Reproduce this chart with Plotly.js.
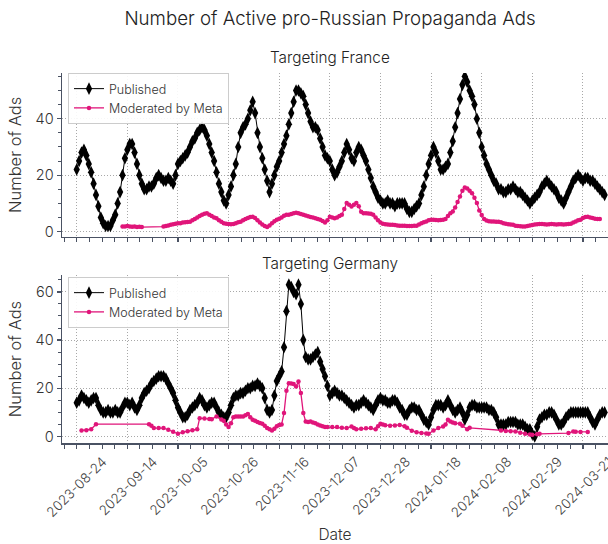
<!DOCTYPE html>
<html>
<head>
<meta charset="utf-8">
<script src="https://cdn.plot.ly/plotly-3.0.1.min.js"></script>
<style>html,body{margin:0;padding:0;background:#fff;}#chart{width:608px;height:544px;}</style>
</head>
<body>
<div id="chart"></div>
<script>
// ---- DATA ----
const startDate = '2023-08-24';
const tickDates = ['2023-08-24','2023-09-14','2023-10-05','2023-10-26','2023-11-16','2023-12-07','2023-12-28','2024-01-18','2024-02-08','2024-02-29','2024-03-21'];

// Daily published counts (day 0 = 2023-08-24)
const frPublished = [
 22,25,28,29,27,24,21,17,13,9,
 5,3,2,2,2,4,6,10,14,20,
 26,29,31,31,28,24,20,17,15,15,
 16,16,17,19,20,19,18,18,19,18,
 17,20,24,25,26,27,28,30,32,33,
 35,36,37,36,34,31,28,25,21,17,
 14,11,10,13,16,20,24,30,35,37,
 38,40,43,46,42,35,30,26,22,18,
 14,17,20,23,25,28,31,34,38,42,
 46,50,50,49,48,45,42,39,37,37,
 36,33,30,27,26,25,22,20,21,23,
 25,28,31,29,26,25,28,30,29,27,
 25,22,19,16,14,12,11,10,10,11,
 10,10,9,10,10,10,10,8,7,7,
 8,9,10,13,16,20,24,27,30,28,
 25,22,22,23,24,28,32,37,42,47,
 52,55,53,50,48,45,40,35,30,27,
 24,22,20,18,17,15,15,14,14,15,
 15,16,15,14,14,13,12,11,10,11,
 12,13,14,16,17,18,17,16,15,14,
 12,11,10,12,14,16,18,19,20,19,
 18,19,19,18,18,17,16,15,14,13
];
const dePublished = [
 14,15,17,16,15,14,15,16,16,13,
 11,10,10,11,10,10,11,10,10,12,
 14,14,13,14,12,11,13,16,18,19,
 20,22,23,24,25,25,25,24,22,20,
 18,15,12,10,8,8,9,11,12,13,
 14,16,15,13,12,13,14,14,12,10,
 9,8,8,10,13,16,17,17,18,18,
 19,20,20,21,21,22,21,20,16,11,
 10,11,17,23,25,27,37,52,63,62,
 60,59,63,55,40,33,32,32,33,34,
 35,31,28,25,21,17,18,19,18,17,
 17,16,15,14,13,12,13,13,14,15,
 14,13,12,11,13,15,16,15,15,14,
 14,15,15,14,12,11,9,9,11,12,
 12,11,11,9,7,6,5,8,11,13,
 13,13,12,13,15,13,11,10,11,12,
 10,7,9,12,13,13,12,12,12,12,
 12,11,11,10,8,5,5,5,5,6,
 6,6,6,5,5,5,4,3,3,1,
 0,4,7,8,9,9,10,10,9,7,
 5,5,6,8,9,10,10,10,10,10,
 10,10,10,8,6,5,7,9,10,10
];

// Moderated by Meta (day offsets from startDate, values)
const frModDays = [19,20,21,22,23,24,25,26,27,
 36,37,38,39,40,41,42,43,44,45,46,47,48,49,50,51,52,53,54,55,56,57,58,59,60,61,62,63,64,65,
 66,67,68,69,70,71,72,73,74,75,76,77,78,79,80,81,82,83,84,85,86,87,88,89,90,91,92,93,94,95,
 96,97,98,99,100,101,102,103,104,105,106,107,108,109,110,111,112,113,114,115,116,117,118,119,120,121,122,123,124,125,
 126,127,128,129,130,131,132,133,134,135,136,137,138,139,140,141,142,143,144,145,146,147,148,149,150,151,152,153,154,155,
 156,157,158,159,160,161,162,163,164,165,166,167,168,169,170,171,172,173,174,175,176,177,178,179,180,181,182,183,184,185,
 186,187,188,189,190,191,192,193,194,195,196,197,198,199,200,201,202,203,204,205,206,207,208,209,210,211,212,213,214,215,216,217];
const frModVals = [1.8,1.8,2.0,1.8,1.7,1.8,1.6,1.7,1.6,
 1.8,2.0,2.2,2.4,2.6,2.8,3.0,3.0,3.2,3.3,3.4,3.5,4.0,4.5,5.0,5.5,6.0,6.3,6.5,6.0,5.5,5.0,4.7,4.0,3.5,3.0,2.8,2.7,2.6,2.7,
 3.0,3.3,3.5,4.0,4.5,4.8,5.2,5.3,4.8,4.0,3.2,2.5,2.0,1.6,2.2,3.0,3.7,4.2,4.6,5.0,5.6,6.0,6.0,6.2,6.5,6.7,6.5,6.2,6.0,5.7,
 5.4,5.2,5.0,4.7,4.5,4.2,3.8,3.2,4.0,5.3,5.0,4.7,5.0,5.5,6.0,8.0,10.1,9.5,8.9,9.5,10.1,9.0,7.0,6.5,6.5,6.4,6.3,6.0,5.0,4.0,
 3.2,2.8,2.6,2.5,2.4,2.4,2.3,2.2,2.1,2.1,2.1,2.0,2.0,2.0,2.1,2.1,2.5,3.0,3.3,3.6,4.0,4.2,4.2,4.1,4.0,4.1,4.2,4.5,5.5,6.5,
 7.1,8.5,10.5,12.4,14.5,15.6,15.3,14.5,13.6,12.0,10.1,7.5,5.9,4.5,3.9,3.7,3.6,3.6,3.5,3.5,3.3,3.0,2.8,2.6,2.5,2.4,2.1,2.0,1.9,1.8,
 1.8,2.0,2.2,2.3,2.5,2.6,2.7,2.7,2.6,2.5,2.6,2.7,2.6,2.5,2.6,2.6,2.5,2.6,2.7,2.8,3.2,3.6,4.0,4.2,4.8,5.2,5.3,5.0,4.8,4.6,4.5,4.5];

const deModDays = [2,4,6,8,
 30,31,32,34,36,38,40,42,44,46,48,50,
 51,53,55,56,58,60,61,62,63,64,65,
 66,67,68,69,70,71,72,73,74,75,
 76,77,78,79,80,81,82,83,84,85,
 86,87,88,89,90,91,92,93,94,95,
 96,97,98,99,100,101,102,103,104,
 106,108,110,112,114,115,116,118,120,122,124,
 125,126,127,128,130,132,134,136,137,139,
 141,143,145,146,148,150,152,153,154,155,
 156,157,159,160,162,163,
 176,178,180,182,184,186,188,189,191,192,
 204,206,207,209,212];
const deModVals = [2.5,2.6,3.0,5.1,
 5.1,4.5,3.5,3.5,3.5,2.8,2.0,1.1,1.8,2.2,2.6,3.0,
 7.6,7.5,7.3,7.2,8.3,7.0,6.5,5.0,3.9,5.5,8.0,
 8.3,8.3,8.3,8.3,8.8,9.3,8.0,6.9,6.5,6.0,
 5.6,5.3,4.5,3.5,3.0,2.5,3.2,4.2,4.8,5.0,
 9.7,19.0,22.1,22.0,21.8,20.7,22.8,18.0,9.7,6.2,
 6.0,6.2,5.8,5.5,5.0,4.6,4.2,3.9,3.9,
 3.9,3.9,3.6,3.5,4.1,3.5,3.0,3.2,3.4,3.5,3.0,
 4.2,5.3,5.0,4.7,4.5,4.6,4.8,4.3,3.6,2.4,
 1.8,1.4,1.2,1.1,2.5,3.5,4.1,5.0,6.9,6.2,
 5.8,5.5,5.3,4.5,3.0,3.6,
 2.5,2.3,2.2,2.1,1.6,1.1,0.8,0.7,0.9,1.1,
 1.4,2.1,2.0,1.9,1.9];

// ---- helpers ----
const DAY = 86400000;
const t0 = Date.parse(startDate + 'T00:00:00Z');
function dayToDate(d){ return new Date(t0 + d*DAY).toISOString().replace('T',' ').replace('Z','').slice(0,19); }
const pubDatesFr = frPublished.map((_,i)=>dayToDate(i));
const pubDatesDe = dePublished.map((_,i)=>dayToDate(i));

const PINK = '#e0157a';
const AXC = '#4a5263';
const FONT = 'Inter, "Liberation Sans", sans-serif';
const W = 300;
const GRID = {showgrid:true, gridcolor:'#a8a8a8', griddash:'1px,2px', gridwidth:1};
const xRange = [dayToDate(-6.1), dayToDate(220.4)];

function pubTrace(x,y,xa,ya,lg){
  return {x:x,y:y,xaxis:xa,yaxis:ya,legend:lg,name:'Published',type:'scatter',mode:'lines+markers',
    line:{color:'#000',width:1},marker:{symbol:'diamond-tall',size:9,color:'#000'}};
}
function modTrace(x,y,xa,ya,lg){
  return {x:x,y:y,xaxis:xa,yaxis:ya,legend:lg,name:'Moderated by Meta',type:'scatter',mode:'lines+markers',
    line:{color:PINK,width:1.3},marker:{symbol:'circle',size:4.5,color:PINK}};
}

const data = [
  pubTrace(pubDatesFr, frPublished, 'x','y','legend'),
  modTrace(frModDays.map(dayToDate), frModVals, 'x','y','legend'),
  pubTrace(pubDatesDe, dePublished, 'x2','y2','legend2'),
  modTrace(deModDays.map(dayToDate), deModVals, 'x2','y2','legend2')
];

const tickFont = {family:FONT,size:14.5,color:'#333',weight:W};
function xAxis(anchor, labels){
  return Object.assign({anchor:anchor, domain:[0,1], type:'date', range:xRange,
    tickmode:'array', tickvals:tickDates, ticktext:tickDates,
    showticklabels:labels, tickangle:-45, ticklabelshift:26, ticklabeloverflow:'allow',
    tickfont:{family:FONT,size:13.5,color:'#444',weight:W},
    ticks:'outside', ticklen:4, tickwidth:1.3, tickcolor:AXC,
    minor:{ticks:'outside', ticklen:4, tickwidth:1, tickcolor:AXC, dtick:5.25*DAY, tick0:startDate, showgrid:false},
    showline:true, linecolor:AXC, linewidth:1.5, mirror:false, zeroline:false}, GRID);
}
function xIn(over, anchor){
  return {overlaying:over, anchor:anchor, type:'date', range:xRange,
    tickmode:'array', tickvals:tickDates, showticklabels:false,
    ticks:'inside', ticklen:4, tickwidth:1.3, tickcolor:AXC,
    minor:{ticks:'inside', ticklen:3, tickwidth:1, tickcolor:AXC, dtick:5.25*DAY, tick0:startDate, showgrid:false},
    showline:false, showgrid:false, zeroline:false};
}
function yAxis(anchor, domain, range){
  return Object.assign({anchor:anchor, domain:domain, range:range, tickmode:'linear', tick0:0, dtick:20,
    tickfont:tickFont, ticks:'outside', ticklen:4, tickwidth:1.3, tickcolor:AXC,
    minor:{ticks:'outside', ticklen:3, tickwidth:1, tickcolor:AXC, dtick:5, tick0:0, showgrid:false},
    showline:true, linecolor:AXC, linewidth:1.5, zeroline:false,
    title:{text:'Number of Ads', font:{family:FONT,size:16.5,color:'#333',weight:W}, standoff:9}}, GRID);
}
function yIn(over, anchor, range){
  return {overlaying:over, anchor:anchor, range:range, tickmode:'linear', tick0:0, dtick:20,
    showticklabels:false, ticks:'inside', ticklen:4, tickwidth:1.3, tickcolor:AXC,
    minor:{ticks:'inside', ticklen:3, tickwidth:1, tickcolor:AXC, dtick:5, tick0:0, showgrid:false},
    showline:false, showgrid:false, zeroline:false};
}

const yr1 = [-1.8, 56.2], yr2 = [-2.7, 67];
const legendBase = {x:0.011, xanchor:'left', yanchor:'top', bgcolor:'rgba(255,255,255,0.9)',
  bordercolor:'#cccccc', borderwidth:1, font:{family:FONT,size:12.5,color:'#333',weight:W}, tracegroupgap:0, itemwidth:30};

const xa2 = xAxis('y2', true);
xa2.title = {text:'Date', font:{family:FONT,size:15.5,color:'#333',weight:W}, standoff:18};

const layout = {
  width:608, height:544,
  margin:{l:62, r:0, t:73, b:101},
  paper_bgcolor:'#fff', plot_bgcolor:'#fff',
  font:{family:FONT, color:'#333', weight:W},
  title:{text:'Number of Active pro-Russian Propaganda Ads', x:330/608, xref:'container', xanchor:'center',
    y:1-18/544, yref:'container', yanchor:'middle', font:{family:FONT,size:18.7,color:'#222',weight:W}},
  xaxis: xAxis('y', false),
  yaxis: yAxis('x', [0.5576,1], yr1),
  xaxis2: xa2,
  yaxis2: yAxis('x2', [0,0.454], yr2),
  xaxis3: xIn('x','y'),
  yaxis3: yIn('y','x',yr1),
  xaxis4: xIn('x2','y2'),
  yaxis4: yIn('y2','x2',yr2),
  legend: Object.assign({y:1.0}, legendBase),
  legend2: Object.assign({y:0.4486}, legendBase),
  showlegend:true,
  annotations:[
    {text:'Targeting France', xref:'paper', yref:'paper', x:0.491, y:1.043, xanchor:'center', yanchor:'middle',
     showarrow:false, font:{family:FONT,size:15.3,color:'#222',weight:W}},
    {text:'Targeting Germany', xref:'paper', yref:'paper', x:0.491, y:0.4838, xanchor:'center', yanchor:'middle',
     showarrow:false, font:{family:FONT,size:15.3,color:'#222',weight:W}}
  ]
};

Plotly.newPlot('chart', data, layout, {displayModeBar:false, staticPlot:true});
</script>
</body>
</html>
